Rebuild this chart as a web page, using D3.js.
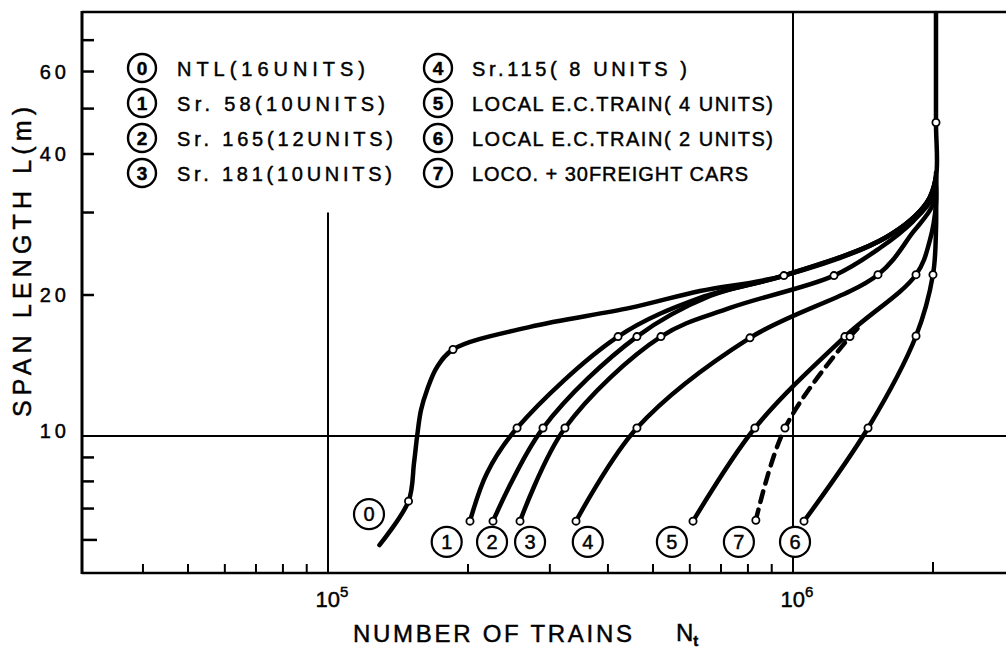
<!DOCTYPE html>
<html><head><meta charset="utf-8">
<script src="https://cdn.jsdelivr.net/npm/d3@7"></script>
<style>
html,body{margin:0;padding:0;background:#fff;}
svg{display:block;font-family:"Liberation Sans",Arial,sans-serif;}
svg text{stroke:#000;stroke-width:0.45px;fill:#000;}
</style></head>
<body><svg id="c" width="1006" height="650"></svg>
<script>
// ---------- DATA ----------
// each point: [N (number of trains), L (span length m), marker?]
const s0 = [[1.29e5,5.85,0],[1.49e5,7.26,1],[1.531e5,8.76,0],[1.555e5,10.0,0],[1.585e5,11.36,0],[1.633e5,12.54,0],[1.716e5,14.04,0],[1.857e5,15.3,1],[2.72e5,17.1,0],[4.46e5,18.77,0],[6.31e5,20.4,0],[9.56e5,22.0,1],[1.59e6,26.6,0],[1.94e6,31.5,0],[2.03e6,35.7,0],[2.03e6,46.7,1],[2.03e6,80,0]];
const s1 = [[2.02e5,6.58,1],[2.198e5,8.34,0],[2.55e5,10.4,1],[4.205e5,16.3,1],[6.31e5,19.72,0],[9.56e5,22.0,0],[1.59e6,26.6,0],[1.94e6,31.5,0],[2.03e6,35.7,0]];
const s2 = [[2.264e5,6.58,1],[2.90e5,10.4,1],[4.617e5,16.3,1],[6.63e5,19.9,0],[9.56e5,22.0,0],[1.59e6,26.6,0],[1.94e6,31.5,0],[2.03e6,35.7,0]];
const s3 = [[2.588e5,6.58,1],[3.233e5,10.4,1],[5.20e5,16.3,1],[7.32e5,18.77,0],[1.225e6,22.0,1],[1.538e6,25.2,0],[1.81e6,28.7,0],[2.0e6,32.4,0],[2.03e6,36.5,0]];
const s4 = [[3.415e5,6.58,1],[4.617e5,10.4,1],[8.08e5,16.2,1],[1.523e6,22.1,1],[1.81e6,27.2,0],[2.0e6,31.2,0],[2.03e6,35.5,0]];
const s5 = [[6.095e5,6.58,1],[8.28e5,10.4,1],[1.293e6,16.3,1],[1.839e6,22.1,1],[1.97e6,26.2,0],[2.03e6,31.2,0],[2.03e6,36,0]];
const s6 = [[1.056e6,6.58,1],[1.45e6,10.4,1],[1.839e6,16.35,1],[2.0e6,22.1,1],[2.03e6,27.5,0],[2.03e6,34,0]];
const s7 = [[8.32e5,6.61,1],[9.61e5,10.4,1],[1.326e6,16.3,1],[1.414e6,17.4,0]];

const seriesIds = ["0","1","2","3","4","5","6","7"];
const seriesData = [s0,s1,s2,s3,s4,s5,s6,s7];
const seriesDashed = [false,false,false,false,false,false,false,true];
// where each curve's number label sits, [N, L]
const labelAt = [[1.225e5,6.81],[1.80e5,5.94],[2.253e5,5.94],[2.72e5,5.94],[3.62e5,5.94],[5.49e5,5.94],[1.01e6,5.94],[7.65e5,5.94]];

const legendCol1 = [["0","NTL(16UNITS)"],["1","Sr. 58(10UNITS)"],["2","Sr. 165(12UNITS)"],["3","Sr. 181(10UNITS)"]];
const legendCol2 = [["4","Sr.115( 8 UNITS )"],["5","LOCAL E.C.TRAIN( 4 UNITS)"],["6","LOCAL E.C.TRAIN( 2 UNITS)"],["7","LOCO. + 30FREIGHT CARS"]];

const xMinorTicks = [4e4,5e4,6e4,7e4,8e4,9e4,2e5,3e5,4e5,5e5,6e5,7e5,8e5,9e5,2e6];
const xLabelTicks = [[1e5,"5"],[1e6,"6"]];
const yTicks = [6,7,8,9,20,30,40,50,60,70];
const yLabelTicks = [10,20,40,60];
const xTitle = "NUMBER OF TRAINS";
const yTitle = "SPAN LENGTH  L(m)";

// ---------- DRAW ----------
const svg = d3.select("#c");
const L = 82, R = 1006, T = 12, B = 573;
const x = d3.scaleLog().domain([1e5,1e6]).range([328,793]);
const y = d3.scaleLog().domain([10,40]).range([436,154]);

svg.append("rect").attr("width",1006).attr("height",650).attr("fill","#fff");

const g = svg.append("g");
// frame lines
g.append("line").attr("x1",L).attr("x2",L).attr("y1",T-1).attr("y2",B+1).attr("stroke","#000").attr("stroke-width",3);
g.append("line").attr("x1",L).attr("x2",R).attr("y1",T).attr("y2",T).attr("stroke","#000").attr("stroke-width",2.5);
g.append("line").attr("x1",L).attr("x2",R).attr("y1",B).attr("y2",B).attr("stroke","#000").attr("stroke-width",2.5);
// grid lines
g.append("line").attr("x1",x(1e5)).attr("x2",x(1e5)).attr("y1",y(30)).attr("y2",B).attr("stroke","#000").attr("stroke-width",2);
g.append("line").attr("x1",x(1e6)).attr("x2",x(1e6)).attr("y1",T).attr("y2",B).attr("stroke","#000").attr("stroke-width",2);
g.append("line").attr("x1",L).attr("x2",R).attr("y1",y(10)).attr("y2",y(10)).attr("stroke","#000").attr("stroke-width",2);

// x ticks (inward)
g.selectAll(".xt").data(xMinorTicks).join("line")
  .attr("x1",d=>x(d)).attr("x2",d=>x(d)).attr("y1",B).attr("y2",d=>B-(d===2e6?11:9))
  .attr("stroke","#000").attr("stroke-width",2);
// y ticks (inward)
g.selectAll(".yt").data(yTicks).join("line")
  .attr("x1",L).attr("x2",d=>L+(d===6?15:12)).attr("y1",d=>y(d)).attr("y2",d=>y(d))
  .attr("stroke","#000").attr("stroke-width",2.5);

// x tick labels 10^n
xLabelTicks.forEach(([v,e])=>{
  const t = g.append("text").attr("x",x(v)+4).attr("y",607).attr("text-anchor","middle")
    .attr("font-size",22);
  t.append("tspan").text("10");
  t.append("tspan").attr("dy",-10).attr("font-size",15).text(e);
});
// y tick labels
g.selectAll(".yl").data(yLabelTicks).join("text")
  .attr("x",70).attr("y",d=>y(d)+(d===10?2:7)).attr("text-anchor","end")
  .attr("font-size",20).attr("letter-spacing",4).text(d=>d);

// axis titles
g.append("text").attr("x",353).attr("y",642).attr("font-size",24)
  .attr("textLength",279).attr("lengthAdjust","spacing").text(xTitle);
const nt = g.append("text").attr("x",676).attr("y",641).attr("font-size",24);
nt.append("tspan").text("N");
nt.append("tspan").attr("dy",5).attr("font-size",15).attr("font-weight","bold").text("t");
g.append("text").attr("transform","translate(31,262) rotate(-90)").attr("text-anchor","middle")
  .attr("font-size",25).attr("textLength",310).attr("lengthAdjust","spacing").text(yTitle);

// curves
const line = d3.line().x(d=>x(d[0])).y(d=>y(d[1])).curve(d3.curveCatmullRom.alpha(0.5));
seriesData.forEach((s,i)=>{
  g.append("path").attr("d",line(s)).attr("fill","none").attr("stroke","#000")
   .attr("stroke-width",4.5).attr("stroke-linecap","round")
   .attr("stroke-dasharray",seriesDashed[i]?"11,8":null);
});
seriesData.forEach(s=>{
  g.selectAll(null).data(s.filter(d=>d[2])).join("circle")
   .attr("cx",d=>x(d[0])).attr("cy",d=>y(d[1])).attr("r",3.6)
   .attr("fill","#fff").attr("stroke","#000").attr("stroke-width",1.8);
});

// curve number labels
labelAt.forEach((p,i)=>{
  const cx = x(p[0]), cy = y(p[1]);
  g.append("circle").attr("cx",cx).attr("cy",cy).attr("r",15).attr("fill","#fff").attr("stroke","#000").attr("stroke-width",2.2);
  g.append("text").attr("x",cx).attr("y",cy+7).attr("text-anchor","middle").attr("font-size",20).text(seriesIds[i]);
});

// legend
function legend(col, cx, tx, lens){
  col.forEach((d,i)=>{
    const cy = 68 + i*35;
    g.append("circle").attr("cx",cx).attr("cy",cy).attr("r",14).attr("fill","#fff").attr("stroke","#000").attr("stroke-width",2.4);
    g.append("text").attr("x",cx).attr("y",cy+7).attr("text-anchor","middle").attr("font-size",19).attr("font-weight","bold").text(d[0]);
    g.append("text").attr("x",tx).attr("y",cy+8).attr("font-size",20)
      .attr("textLength",lens[i]).attr("lengthAdjust","spacing").text(d[1]);
  });
}
legend(legendCol1,142,177,[188,208,216,215]);
legend(legendCol2,438,472,[215,301,301,276]);
</script></body></html>
